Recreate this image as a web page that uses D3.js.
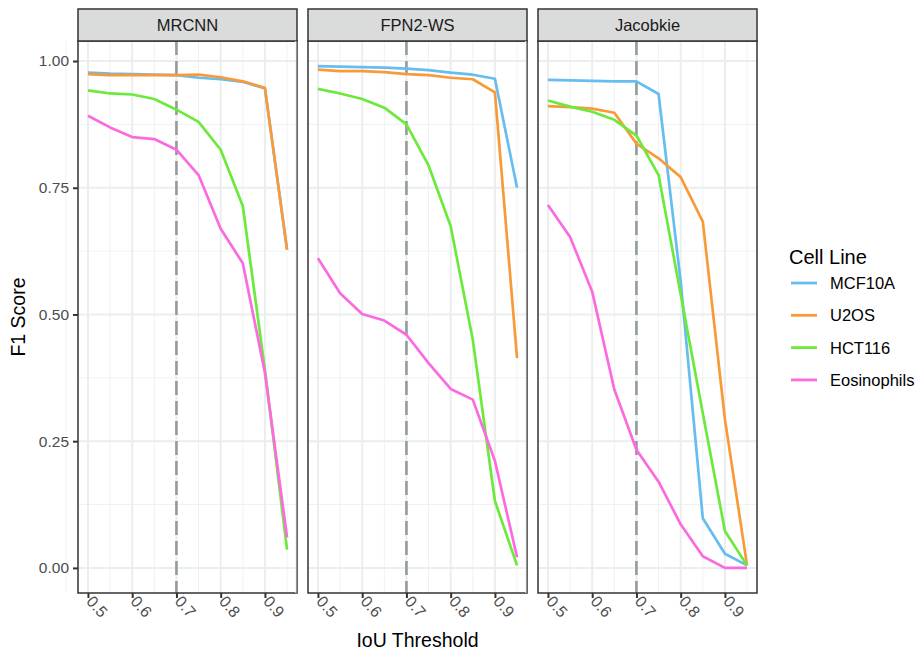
<!DOCTYPE html>
<html>
<head>
    <meta charset="utf-8">
    <title>F1 Score by IoU Threshold</title>
    <script src="https://d3js.org/d3.v7.min.js"></script>
    <style>
        body { margin: 0; background: #fff; }
        text { font-family: "Liberation Sans", Arial, Helvetica, sans-serif; }
    </style>
</head>
<body>
    <div id="chart"></div>
    <script>

        // data
        var thresholds = [0.5, 0.55, 0.6, 0.65, 0.7, 0.75, 0.8, 0.85, 0.9, 0.95];
        var methods = ["MRCNN", "FPN2-WS", "Jacobkie"];
        var cellLines = ["MCF10A", "U2OS", "HCT116", "Eosinophils"];
        var lineColors = ["#66bdf0", "#f99a3a", "#6bea3c", "#fc6ae0"];
        var xTicks = [0.5, 0.6, 0.7, 0.8, 0.9];
        var yTicks = [0, 0.25, 0.5, 0.75, 1];
        var cutoff = 0.7;

        // one row per cell line, same order as cellLines
        var mrcnnF1 = [
            [0.977, 0.975, 0.974, 0.973, 0.972, 0.967, 0.964, 0.959, 0.946, 0.628],
            [0.974, 0.972, 0.972, 0.972, 0.972, 0.973, 0.968, 0.960, 0.947, 0.628],
            [0.942, 0.936, 0.934, 0.925, 0.904, 0.880, 0.825, 0.714, 0.391, 0.036],
            [0.892, 0.869, 0.850, 0.846, 0.825, 0.775, 0.669, 0.601, 0.385, 0.060]
        ];
        var fpnF1 = [
            [0.990, 0.989, 0.988, 0.987, 0.985, 0.982, 0.977, 0.973, 0.965, 0.750],
            [0.983, 0.980, 0.980, 0.978, 0.974, 0.972, 0.967, 0.964, 0.938, 0.414],
            [0.945, 0.936, 0.925, 0.908, 0.875, 0.794, 0.674, 0.450, 0.132, 0.005],
            [0.611, 0.542, 0.501, 0.488, 0.460, 0.404, 0.353, 0.332, 0.211, 0.021]
        ];
        var jacobkieF1 = [
            [0.963, 0.962, 0.961, 0.960, 0.960, 0.935, 0.565, 0.098, 0.028, 0.005],
            [0.911, 0.909, 0.906, 0.898, 0.837, 0.808, 0.771, 0.683, 0.293, 0.005],
            [0.922, 0.910, 0.900, 0.884, 0.853, 0.775, 0.540, 0.305, 0.073, 0.005],
            [0.716, 0.653, 0.545, 0.352, 0.233, 0.170, 0.086, 0.023, 0.000, 0.000]
        ];
        var scores = [mrcnnF1, fpnF1, jacobkieF1];

        var W = 919, H = 656;
        var panelLeft = 78, panelW = 219, panelGap = 11;
        var stripTop = 9, stripH = 32;
        var plotTop = stripTop + stripH, plotBottom = 593;
        var dark = "#333333";

        var svg = d3.select("#chart")
            .append("svg")
            .attr("width", W)
            .attr("height", H);

        // ggplot style 5% expansion
        var xr = d3.extent(thresholds);
        var xPad = (xr[1] - xr[0]) * 0.05;
        var allVals = d3.merge(scores.map(function(m) { return d3.merge(m); }));
        var yr = d3.extent(allVals);
        var yPad = (yr[1] - yr[0]) * 0.05;

        var yScale = d3.scaleLinear()
            .domain([yr[0] - yPad, yr[1] + yPad])
            .range([plotBottom, plotTop]);

        var xMinor = d3.range(0.45, 1.0, 0.1).map(function(v) { return +v.toFixed(2); });
        var yMinor = [0.125, 0.375, 0.625, 0.875];

        methods.forEach(function(name, mi) {
            var x0 = panelLeft + mi * (panelW + panelGap);
            var xScale = d3.scaleLinear()
                .domain([xr[0] - xPad, xr[1] + xPad])
                .range([x0, x0 + panelW]);

            var g = svg.append("g");

            // grid
            g.selectAll(".ymin").data(yMinor).join("line")
                .attr("x1", x0).attr("x2", x0 + panelW)
                .attr("y1", function(d) { return yScale(d); })
                .attr("y2", function(d) { return yScale(d); })
                .attr("stroke", "#f0f2f2").attr("stroke-width", 1);
            g.selectAll(".xmin").data(xMinor).join("line")
                .attr("y1", plotTop).attr("y2", plotBottom)
                .attr("x1", function(d) { return xScale(d); })
                .attr("x2", function(d) { return xScale(d); })
                .attr("stroke", "#f0f2f2").attr("stroke-width", 1);
            g.selectAll(".ymaj").data(yTicks).join("line")
                .attr("x1", x0).attr("x2", x0 + panelW)
                .attr("y1", function(d) { return yScale(d); })
                .attr("y2", function(d) { return yScale(d); })
                .attr("stroke", "#ebeeee").attr("stroke-width", 2);
            g.selectAll(".xmaj").data(xTicks).join("line")
                .attr("y1", plotTop).attr("y2", plotBottom)
                .attr("x1", function(d) { return xScale(d); })
                .attr("x2", function(d) { return xScale(d); })
                .attr("stroke", "#ebeeee").attr("stroke-width", 2);

            // cutoff line
            g.append("line")
                .attr("x1", xScale(cutoff)).attr("x2", xScale(cutoff))
                .attr("y1", plotTop).attr("y2", plotBottom)
                .attr("stroke", "#939b9b")
                .attr("stroke-width", 2.6)
                .attr("stroke-dasharray", "14,6");

            // series
            var line = d3.line()
                .x(function(d, i) { return xScale(thresholds[i]); })
                .y(function(d) { return yScale(d); });

            scores[mi].forEach(function(vals, ci) {
                g.append("path")
                    .datum(vals)
                    .attr("d", line)
                    .attr("fill", "none")
                    .attr("stroke", lineColors[ci])
                    .attr("stroke-width", 2.7)
                    .attr("stroke-linejoin", "round");
            });

            // panel border
            g.append("rect")
                .attr("x", x0).attr("y", plotTop)
                .attr("width", panelW).attr("height", plotBottom - plotTop)
                .attr("fill", "none").attr("stroke", dark).attr("stroke-width", 1.5);

            // strip
            g.append("rect")
                .attr("x", x0).attr("y", stripTop)
                .attr("width", panelW).attr("height", stripH)
                .attr("fill", "#dadcdc").attr("stroke", dark).attr("stroke-width", 1.5);
            g.append("text")
                .attr("x", x0 + panelW / 2)
                .attr("y", stripTop + stripH / 2 + 6)
                .attr("text-anchor", "middle")
                .style("font-size", "16.5px")
                .style("fill", "#1a1a1a")
                .text(name);

            // x axis
            var xAxis = d3.axisBottom(xScale).tickValues(xTicks).tickSize(5).tickFormat(d3.format(".1f"));
            var ax = g.append("g")
                .attr("transform", "translate(0," + plotBottom + ")")
                .call(xAxis);
            ax.select(".domain").remove();
            ax.selectAll(".tick line").attr("stroke", dark).attr("stroke-width", 2);
            ax.selectAll(".tick text")
                .attr("y", 0).attr("dy", 0)
                .attr("transform", "translate(-3,9) rotate(48)")
                .attr("text-anchor", "start")
                .style("font-size", "16px")
                .style("fill", "#4d4d4d");

            if (mi === 0) {
                var yAxis = d3.axisLeft(yScale).tickValues(yTicks).tickSize(5).tickFormat(d3.format(".2f"));
                var ay = g.append("g")
                    .attr("transform", "translate(" + x0 + ",0)")
                    .call(yAxis);
                ay.select(".domain").remove();
                ay.selectAll(".tick line").attr("stroke", dark).attr("stroke-width", 2);
                ay.selectAll(".tick text")
                    .attr("x", -9)
                    .style("font-size", "15.5px")
                    .style("fill", "#4d4d4d");
            }
        });

        // axis titles
        svg.append("text")
            .attr("x", (panelLeft + panelLeft + 3 * panelW + 2 * panelGap) / 2)
            .attr("y", 647)
            .attr("text-anchor", "middle")
            .style("font-size", "19.5px")
            .text("IoU Threshold");

        svg.append("text")
            .attr("transform", "translate(25," + ((plotTop + plotBottom) / 2) + ") rotate(-90)")
            .attr("text-anchor", "middle")
            .style("font-size", "19.5px")
            .text("F1 Score");

        // legend
        var legend = svg.append("g").attr("transform", "translate(789,0)");
        legend.append("text")
            .attr("x", 0).attr("y", 264)
            .style("font-size", "20px")
            .text("Cell Line");
        var items = legend.selectAll(".item").data(cellLines).join("g")
            .attr("transform", function(d, i) { return "translate(0," + (283 + i * 32.3) + ")"; });
        items.append("line")
            .attr("x1", 2).attr("x2", 28)
            .attr("stroke", function(d, i) { return lineColors[i]; })
            .attr("stroke-width", 2.8);
        items.append("text")
            .attr("x", 41).attr("y", 6)
            .style("font-size", "16.5px")
            .text(function(d) { return d; });

    </script>
</body>
</html>
